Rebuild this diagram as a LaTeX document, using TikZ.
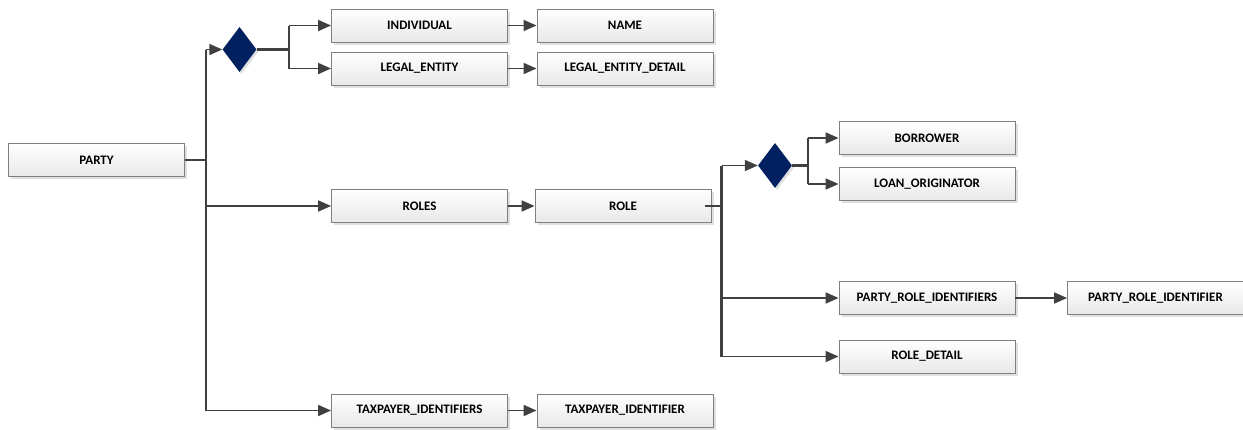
\documentclass[tikz,border=0pt]{standalone}
\usepackage{fontspec}
\setmainfont{Carlito}
\usetikzlibrary{arrows.meta,shapes.geometric,shadows}
\definecolor{linecol}{HTML}{404040}
\definecolor{navy}{HTML}{002060}
\definecolor{boxborder}{HTML}{7F7F7F}
\tikzset{
  ent/.style={rectangle, draw=boxborder, line width=0.9pt, top color=white, bottom color=black!9,
    minimum width=176pt, minimum height=33pt, inner sep=0pt,
    font=\fontsize{13}{15}\selectfont\bfseries,
    drop shadow={shadow xshift=2.5pt, shadow yshift=-2.5pt, fill=black!12, opacity=1}},
  choice/.style={diamond, fill=navy, draw=none, minimum width=34pt, minimum height=45pt, inner sep=0pt,
    drop shadow={shadow xshift=2pt, shadow yshift=-2pt, fill=black!12, opacity=1}},
  conn/.style={draw=linecol, line width=2.2pt},
  arr/.style={draw=linecol, line width=1.8pt, -{Triangle[length=13pt,width=11pt]}},
}
\begin{document}
\begin{tikzpicture}[x=1pt,y=-1pt]
\useasboundingbox (0,0) rectangle (1243,429);
\node[ent] (party) at (96.5,160) {PARTY};
\node[choice] (d1) at (239.5,49.5) {};
\node[ent] (indiv) at (419.5,25.5) {INDIVIDUAL};
\node[ent] (legal) at (419.5,68.5) {LEGAL\_ENTITY};
\node[ent] (name) at (625,25.5) {NAME};
\node[ent] (led) at (625,68.5) {LEGAL\_ENTITY\_DETAIL};
\node[ent] (roles) at (419.5,206) {ROLES};
\node[ent] (role) at (623,206) {ROLE};
\node[choice] (d2) at (775,165.5) {};
\node[ent] (borrower) at (927,138) {BORROWER};
\node[ent] (loan) at (927,184) {LOAN\_ORIGINATOR};
\node[ent] (pris) at (927,298) {PARTY\_ROLE\_IDENTIFIERS};
\node[ent] (pri) at (1155.5,298) {PARTY\_ROLE\_IDENTIFIER};
\node[ent] (rdet) at (927,356.5) {ROLE\_DETAIL};
\node[ent] (tis) at (419.5,410.5) {TAXPAYER\_IDENTIFIERS};
\node[ent] (ti) at (625,410.5) {TAXPAYER\_IDENTIFIER};

\coordinate (t1) at (206,160);
\coordinate (b1) at (289,49.5);
\coordinate (t2) at (721.5,206);
\coordinate (b2) at (808,165.5);

% trunk from PARTY
\draw[conn] (party.east) -- (t1);
\draw[conn] (t1 |- d1) -- (t1 |- tis);
\draw[arr] (t1 |- d1) -- (d1.west);
\draw[arr] (t1 |- roles) -- (roles.west);
\draw[arr] (t1 |- tis) -- (tis.west);
% first choice
\draw[conn] (d1.east) -- (b1);
\draw[conn] (b1 |- indiv) -- (b1 |- legal);
\draw[arr] (b1 |- indiv) -- (indiv.west);
\draw[arr] (b1 |- legal) -- (legal.west);
\draw[arr] (indiv.east) -- (name.west);
\draw[arr] (legal.east) -- (led.west);
% roles
\draw[arr] (roles.east) -- (role.west);
\draw[conn] ([xshift=-6pt]role.east) -- (t2);
\draw[conn] (t2 |- d2) -- (t2 |- rdet);
\draw[arr] (t2 |- d2) -- (d2.west);
\draw[arr] (t2 |- pris) -- (pris.west);
\draw[arr] (t2 |- rdet) -- (rdet.west);
% second choice
\draw[conn] (d2.east) -- (b2);
\draw[conn] (b2 |- borrower) -- (b2 |- loan);
\draw[arr] (b2 |- borrower) -- (borrower.west);
\draw[arr] (b2 |- loan) -- (loan.west);
\draw[arr] (pris.east) -- (pri.west);
\draw[arr] (tis.east) -- (ti.west);
\end{tikzpicture}
\end{document}
